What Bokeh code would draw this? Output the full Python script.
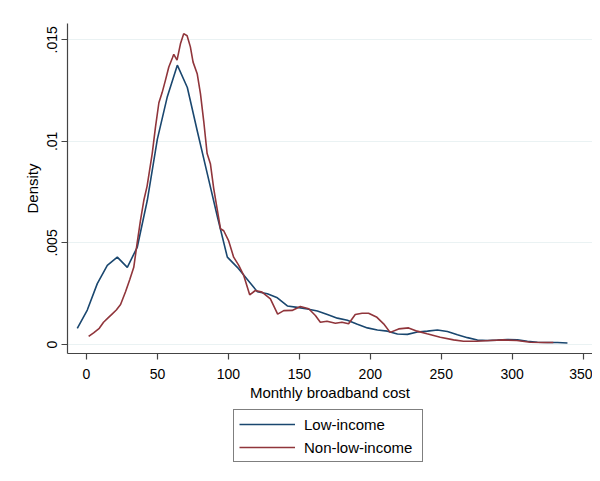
from bokeh.plotting import figure
from bokeh.layouts import column
from bokeh.models import FixedTicker, CustomJSTickFormatter, Legend, LegendItem, Range1d
from bokeh.embed import file_html
from bokeh.resources import INLINE

# ---- data ----
low_x = [-6.5, 0.55, 7.6, 14.65, 21.7, 28.75, 35.8, 42.85, 49.9, 56.95,
         64.0, 71.05, 78.1, 85.15, 92.2, 99.25, 106.3, 113.35, 120.4, 127.45,
         134.5, 141.55, 148.6, 155.65, 162.7, 169.75, 176.8, 183.85, 190.9, 197.95,
         205.0, 212.05, 219.1, 226.15, 233.2, 240.25, 247.3, 254.35, 261.4, 268.45,
         275.5, 282.55, 289.6, 296.65, 303.7, 310.75, 317.8, 324.85, 331.9, 338.95]
low_y = [0.00080, 0.00170, 0.00300, 0.00390, 0.00430, 0.00380, 0.00480, 0.00710, 0.01010, 0.01220,
         0.01375, 0.01265, 0.01050, 0.00840, 0.00630, 0.00430, 0.00380, 0.00320, 0.00260, 0.00250,
         0.00230, 0.00190, 0.00183, 0.00175, 0.00165, 0.00148, 0.00130, 0.00120, 0.00100, 0.00082,
         0.00072, 0.00066, 0.00052, 0.00050, 0.00062, 0.00066, 0.00072, 0.00064, 0.00048, 0.00034,
         0.00022, 0.00020, 0.00022, 0.00025, 0.00023, 0.00016, 0.00011, 0.00010, 0.00010, 0.00008]

non_x = [1.5, 5, 9, 12, 15, 18, 21, 24, 27.5, 30.5,
         33.3, 35.7, 38, 40.4, 42.7, 44.5, 46.3, 48.6, 51, 53.3,
         55.6, 58, 60.5, 61.5, 63.8, 66.2, 68.5, 70.9, 73.2, 75.1,
         78, 80.3, 82.6, 85, 87.3, 89.6, 92, 94.4, 96.7, 100.2,
         103.7, 107.3, 110.8, 115, 119, 123.7, 129.6, 134.7, 139, 144.9,
         150.7, 156.6, 161.3, 164.8, 169.5, 175.4, 180, 184.7, 189.4, 194.2,
         198.8, 204.7, 209.4, 214, 220, 227, 233, 240, 249.3, 258.7,
         265.7, 275, 284.5, 293.9, 303.3, 312.7, 322, 329]
non_y = [0.00040, 0.00058, 0.00080, 0.00110, 0.00130, 0.00150, 0.00170, 0.00197, 0.00260, 0.00320,
         0.00380, 0.00500, 0.00610, 0.00710, 0.00780, 0.00860, 0.00940, 0.01070, 0.01190, 0.01240,
         0.01300, 0.01366, 0.01410, 0.01428, 0.01400, 0.01480, 0.01530, 0.01520, 0.01465, 0.01390,
         0.01333, 0.01235, 0.01100, 0.00940, 0.00890, 0.00770, 0.00670, 0.00570, 0.00560, 0.00510,
         0.00430, 0.00390, 0.00340, 0.00245, 0.00266, 0.00258, 0.00225, 0.00150, 0.00167, 0.00168,
         0.00187, 0.00176, 0.00143, 0.00110, 0.00115, 0.00105, 0.00110, 0.00102, 0.00148, 0.00154,
         0.00154, 0.00134, 0.00102, 0.00060, 0.00077, 0.00082, 0.00066, 0.00053, 0.00036, 0.00023,
         0.00016, 0.00016, 0.00020, 0.00023, 0.00020, 0.00011, 0.00010, 0.00010]

x_ticks = [0, 50, 100, 150, 200, 250, 300, 350]
y_ticks = [0, 0.005, 0.01, 0.015]
series_labels = ["Low-income", "Non-low-income"]
x_title = "Monthly broadband cost"
y_title = "Density"

FONT = "Liberation Sans"
BLUE = "#1a476f"
RED = "#90353b"

p = figure(width=592, height=405, output_backend="svg", toolbar_location=None,
           x_range=Range1d(-13.4, 356.6), y_range=Range1d(-0.00044, 0.0158),
           min_border_left=67, min_border_right=0, min_border_top=23, min_border_bottom=52)
p.outline_line_color = None
p.background_fill_color = "white"
p.border_fill_color = "white"

p.line(low_x, low_y, line_color=BLUE, line_width=1.6)
p.line(non_x, non_y, line_color=RED, line_width=1.6)

# grid
p.xgrid.grid_line_color = None
p.ygrid.grid_line_color = "#eaf2f3"
p.ygrid.grid_line_width = 1.2
p.ygrid.ticker = FixedTicker(ticks=y_ticks)

# axes
p.xaxis.ticker = FixedTicker(ticks=x_ticks)
p.yaxis.ticker = FixedTicker(ticks=y_ticks)
p.yaxis.formatter = CustomJSTickFormatter(code="""
if (tick == 0) { return "0"; }
return tick.toFixed(3).replace(/0+$/, '').replace(/^0/, '');
""")
for ax in (p.xaxis[0], p.yaxis[0]):
    ax.axis_line_color = "#444444"
    ax.axis_line_width = 1.2
    ax.major_tick_line_color = "#444444"
    ax.major_tick_line_width = 1.2
    ax.major_tick_out = 6
    ax.major_tick_in = 0
    ax.minor_tick_line_color = None
    ax.major_label_text_font = FONT
    ax.major_label_text_font_size = "14px"
    ax.major_label_text_color = "black"
    ax.axis_label_text_font = FONT
    ax.axis_label_text_font_size = "15px"
    ax.axis_label_text_font_style = "normal"
    ax.axis_label_text_color = "black"

p.xaxis.axis_label = x_title
p.yaxis.axis_label = y_title
p.yaxis.major_label_orientation = "vertical"
p.xaxis.major_label_standoff = 9
p.yaxis.major_label_standoff = 4
p.xaxis.axis_label_standoff = 2
p.yaxis.axis_label_standoff = 4

# legend strip below the plot (its series lie outside this strip's visible range)
pl = figure(width=592, height=70, output_backend="svg", toolbar_location=None,
            x_range=Range1d(1000, 1001), y_range=Range1d(1000, 1001),
            x_axis_type=None, y_axis_type=None,
            min_border_left=0, min_border_right=0, min_border_top=0, min_border_bottom=0)
pl.outline_line_color = None
pl.background_fill_color = "white"
pl.border_fill_color = "white"
l1 = pl.line(low_x, low_y, line_color=BLUE, line_width=1.6)
l2 = pl.line(non_x, non_y, line_color=RED, line_width=1.6)

legend = Legend(items=[LegendItem(label=series_labels[0], renderers=[l1]),
                       LegendItem(label=series_labels[1], renderers=[l2])],
                location=(166, 13), orientation="vertical")
legend.border_line_color = "black"
legend.border_line_width = 1
legend.background_fill_color = "white"
legend.background_fill_alpha = 1.0
legend.label_text_font = FONT
legend.label_text_font_size = "15px"
legend.label_text_color = "black"
legend.padding = 5
legend.margin = 0
legend.spacing = 5
legend.glyph_width = 56
legend.glyph_height = 18
legend.label_height = 18
legend.label_width = 113
legend.label_standoff = 9
pl.add_layout(legend, "center")

layout = column(p, pl, spacing=0)
open("out.html", "w").write(file_html(layout, INLINE))
